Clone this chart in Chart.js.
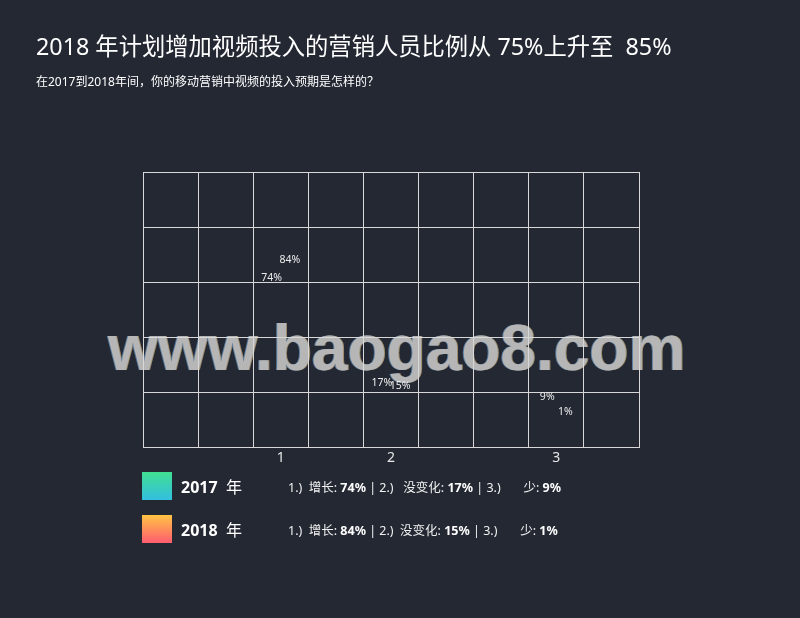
<!DOCTYPE html>
<html>
<head>
<meta charset="utf-8">
<script src="https://cdn.jsdelivr.net/npm/chart.js@4.4.1/dist/chart.umd.min.js"></script>
<style>
  html, body { margin: 0; padding: 0; background: #232833; }
  body { width: 800px; height: 618px; position: relative; overflow: hidden;
         font-family: "Noto Sans", "Noto Sans CJK SC", sans-serif; color: #fff; }
  #title { position: absolute; left: 36px; top: 33px; font-size: 23.3px; white-space: pre; line-height: 1.2; }
  #subtitle { position: absolute; left: 36px; top: 75px; font-size: 12px; white-space: pre; line-height: 1.2; }
  #watermark { position: absolute; left: 108px; top: 316px; font-family: "Liberation Sans", Arial, sans-serif;
               font-weight: bold; font-size: 64px; line-height: 1; color: #b6b6b6; white-space: pre;
               text-shadow: -1px 0 0 #5a7da0, 1px 0 0 #9c8a6a; }
  #chartWrap { position: absolute; left: 0; top: 0; width: 800px; height: 618px; }
  .legRow { position: absolute; left: 142px; height: 28px; display: flex; align-items: center; white-space: pre; }
  .swatch { width: 30px; height: 28px; }
  .year { position: absolute; left: 39px; font-size: 16px; font-weight: bold; }
  .year span { font-weight: normal; }
  .desc { position: absolute; left: 146px; font-size: 12.5px; color: #f0f0f0; }
  .desc b { font-weight: bold; color: #fff; }
</style>
</head>
<body>
<div id="watermark">www.baogao8.com</div>
<div id="chartWrap"><canvas id="c" width="800" height="618"></canvas></div>
<div id="title"></div>
<div id="subtitle"></div>
<div id="legend"></div>
<script>
const titleText = "2018 年计划增加视频投入的营销人员比例从 75%上升至  85%";
const subtitleText = "在2017到2018年间，你的移动营销中视频的投入预期是怎样的？";
// nine grid columns; the three answer categories sit in columns 3, 5 and 8
const xLabels = ["", "", "1", "", "2", "", "", "3", ""];
const values2017 = [null, null, 74, null, 17, null, null, 9, null];
const values2018 = [null, null, 84, null, 15, null, null, 1, null];
const seriesNames = ["2017", "2018"];
const answerNames = ["增长", "没变化", "少"];
const answers2017 = [74, 17, 9];
const answers2018 = [84, 15, 1];
const yTicks = [0, 30, 60, 90, 120, 150];

document.getElementById('title').textContent = titleText;
document.getElementById('subtitle').textContent = subtitleText;

// legend
const legend = document.getElementById('legend');
const grads = [
  'linear-gradient(to bottom, #41df92, #33bfe0)',
  'linear-gradient(to bottom, #ffc443, #ff5c70)'
];
const rowsData = [answers2017, answers2018];
const gaps2 = ['   ', '  '];
[0, 1].forEach(i => {
  const row = document.createElement('div');
  row.className = 'legRow';
  row.style.top = (472 + i * 43) + 'px';
  const sw = document.createElement('div');
  sw.className = 'swatch';
  sw.style.background = grads[i];
  row.appendChild(sw);
  const yr = document.createElement('div');
  yr.className = 'year';
  yr.innerHTML = seriesNames[i] + '  <span>年</span>';
  row.appendChild(yr);
  const d = document.createElement('div');
  d.className = 'desc';
  const v = rowsData[i];
  d.innerHTML = '1.)  ' + answerNames[0] + ': <b>' + v[0] + '%</b> | 2.)' + gaps2[i] +
    answerNames[1] + ': <b>' + v[1] + '%</b> | 3.)       ' + answerNames[2] + ': <b>' + v[2] + '%</b>';
  row.appendChild(d);
  legend.appendChild(row);
});

const labelPlugin = {
  id: 'valueLabels',
  afterDatasetsDraw(chart) {
    const ctx = chart.ctx;
    ctx.save();
    ctx.font = '10.5px "Noto Sans", sans-serif';
    ctx.fillStyle = '#ececec';
    ctx.textAlign = 'center';
    ctx.textBaseline = 'bottom';
    chart.data.datasets.forEach((ds, di) => {
      const meta = chart.getDatasetMeta(di);
      meta.data.forEach((el, i) => {
        const val = ds.data[i];
        if (val === null || val === undefined) return;
        ctx.fillText(val + '%', el.x, el.y - 28);
      });
    });
    ctx.restore();
  }
};

new Chart(document.getElementById('c'), {
  type: 'bar',
  data: {
    labels: xLabels,
    datasets: [
      { label: seriesNames[0], data: values2017, backgroundColor: 'rgba(0,0,0,0)', borderWidth: 0, skipNull: true },
      { label: seriesNames[1], data: values2018, backgroundColor: 'rgba(0,0,0,0)', borderWidth: 0, skipNull: true }
    ]
  },
  options: {
    responsive: false,
    animation: false,
    devicePixelRatio: 1,
    categoryPercentage: 0.66,
    barPercentage: 1,
    layout: { padding: { left: 143, top: 172, right: 161, bottom: 150 } },
    plugins: { legend: { display: false }, tooltip: { enabled: false }, title: { display: false } },
    scales: {
      x: {
        grid: { color: '#d8d8d8', lineWidth: 1, drawTicks: false, offset: true },
        border: { color: '#d8d8d8', width: 1 },
        ticks: { color: '#e6e6e6', font: { size: 14, family: '"Noto Sans", sans-serif' }, padding: 2, maxRotation: 0, autoSkip: false }
      },
      y: {
        min: yTicks[0], max: yTicks[yTicks.length - 1],
        afterBuildTicks(axis) { axis.ticks = yTicks.map(v => ({ value: v })); },
        grid: { color: '#d8d8d8', lineWidth: 1, drawTicks: false },
        border: { color: '#d8d8d8', width: 1 },
        ticks: { display: false }
      }
    }
  },
  plugins: [labelPlugin]
});
</script>
</body>
</html>
